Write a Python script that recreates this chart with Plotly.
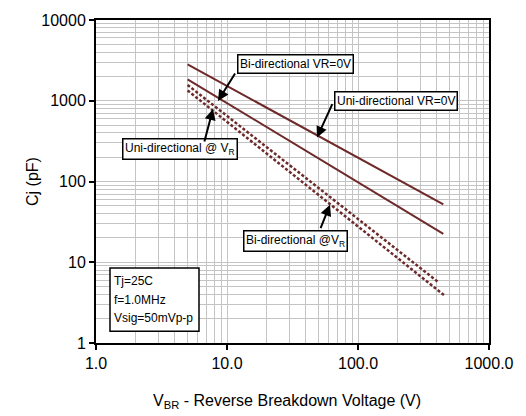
import plotly.graph_objects as go

# Data (V_BR in volts, Cj in pF)
uni_vr0_x = [5.0, 448.0]
uni_vr0_y = [2820.0, 52.0]
bi_vr0_x = [5.0, 448.0]
bi_vr0_y = [1845.0, 22.4]
uni_vr_x = [5.0, 414.0]
uni_vr_y = [1570.0, 5.6]
bi_vr_x = [5.0, 458.0]
bi_vr_y = [1343.0, 3.87]

x_tickvals = [1, 10, 100, 1000]
x_ticktext = ["1.0", "10.0", "100.0", "1000.0"]
y_tickvals = [1, 10, 100, 1000, 10000]
y_ticktext = ["1", "10", "100", "1000", "10000"]

LINE_COLOR = "#6E2A2A"
FONT = "Liberation Sans, Arial, sans-serif"

W, H = 526, 416
L, R, T, B = 96, 489, 16, 343


def px(xp):
    return (xp - L) / (R - L)


def py(yp):
    return (B - yp) / (B - T)


def minor_grid(decades):
    return [m * 10 ** d for d in range(decades) for m in range(2, 10)]


fig = go.Figure()
fig.add_trace(go.Scatter(x=uni_vr0_x, y=uni_vr0_y, mode="lines",
                         line=dict(color=LINE_COLOR, width=2), name="Uni-directional VR=0V"))
fig.add_trace(go.Scatter(x=bi_vr0_x, y=bi_vr0_y, mode="lines",
                         line=dict(color=LINE_COLOR, width=2), name="Bi-directional VR=0V"))
fig.add_trace(go.Scatter(x=uni_vr_x, y=uni_vr_y, mode="lines",
                         line=dict(color=LINE_COLOR, width=2.5, dash="3px,2px"), name="Uni-directional @ VR"))
fig.add_trace(go.Scatter(x=bi_vr_x, y=bi_vr_y, mode="lines",
                         line=dict(color=LINE_COLOR, width=2.5, dash="3px,2px"), name="Bi-directional @VR"))

axis_common = dict(
    type="log",
    showline=True, linecolor="black", linewidth=2, mirror=True,
    showgrid=True, gridcolor="#C4C4C4", gridwidth=1,
    ticks="outside", ticklen=5, tickcolor="black", tickwidth=1.5,
    zeroline=False,
    tickfont=dict(family=FONT, size=16, color="black"),
)

fig.update_xaxes(range=[0, 3], tickvals=x_tickvals, ticktext=x_ticktext,
                 minor=dict(tickvals=minor_grid(3), showgrid=True, gridcolor="#C4C4C4",
                            gridwidth=1, ticks=""),
                 **axis_common)
fig.update_yaxes(range=[0, 4], tickvals=y_tickvals, ticktext=y_ticktext,
                 minor=dict(tickvals=minor_grid(4), showgrid=True, gridcolor="#C4C4C4",
                            gridwidth=1, ticks=""),
                 **axis_common)

annotations = []
boxes = [
    ("Bi-directional VR=0V", 295.5, 60.5),
    ("Uni-directional VR=0V", 396, 97.5),
    ("Uni-directional @ V<sub>R</sub>", 180, 147),
    ("Bi-directional @V<sub>R</sub>", 295, 240),
]
for text, cx, cy in boxes:
    annotations.append(dict(
        text=text, x=px(cx), y=py(cy), xref="paper", yref="paper",
        xanchor="center", yanchor="middle", showarrow=False,
        font=dict(family=FONT, size=12, color="black"),
        bgcolor="white", bordercolor="black", borderwidth=1.5, borderpad=1.5,
    ))

arrows = [
    (218, 98, 236, 69),
    (317, 135, 333, 100),
    (213, 106, 204, 140),
    (330, 203, 320, 228),
]
for tx, ty, sx, sy in arrows:
    annotations.append(dict(
        text="", x=px(tx), y=py(ty), xref="paper", yref="paper",
        showarrow=True, ax=sx - tx, ay=sy - ty,
        arrowhead=2, arrowsize=1.1, arrowwidth=2, arrowcolor="black", standoff=0,
    ))

cond_lines = ["Tj=25C", "f=1.0MHz", "Vsig=50mVp-p"]
for i, t in enumerate(cond_lines):
    annotations.append(dict(
        text=t, x=px(112), y=py(280 + 19 * i), xref="paper", yref="paper",
        xanchor="left", yanchor="middle", showarrow=False,
        font=dict(family=FONT, size=12, color="black"),
    ))

annotations.append(dict(
    text="V<sub>BR</sub> - Reverse Breakdown Voltage (V)", x=px(287), y=py(402),
    xref="paper", yref="paper", xanchor="center", yanchor="middle", showarrow=False,
    font=dict(family=FONT, size=16, color="black"),
))
annotations.append(dict(
    text="Cj (pF)", x=px(33), y=py(180), textangle=-90,
    xref="paper", yref="paper", xanchor="center", yanchor="middle", showarrow=False,
    font=dict(family=FONT, size=16, color="black"),
))

shapes = [dict(
    type="rect", xref="paper", yref="paper",
    x0=px(110), x1=px(199), y0=py(331), y1=py(267),
    line=dict(color="black", width=1.5), fillcolor="white", layer="above",
)]

fig.update_layout(
    width=W, height=H,
    margin=dict(l=L, r=W - R, t=T, b=H - B, pad=0),
    paper_bgcolor="white", plot_bgcolor="white",
    showlegend=False,
    annotations=annotations,
    shapes=shapes,
    font=dict(family=FONT),
)

fig.write_html("out.html", config={"displayModeBar": False},
               post_script="document.body.style.margin='0';document.body.style.overflow='hidden';")
